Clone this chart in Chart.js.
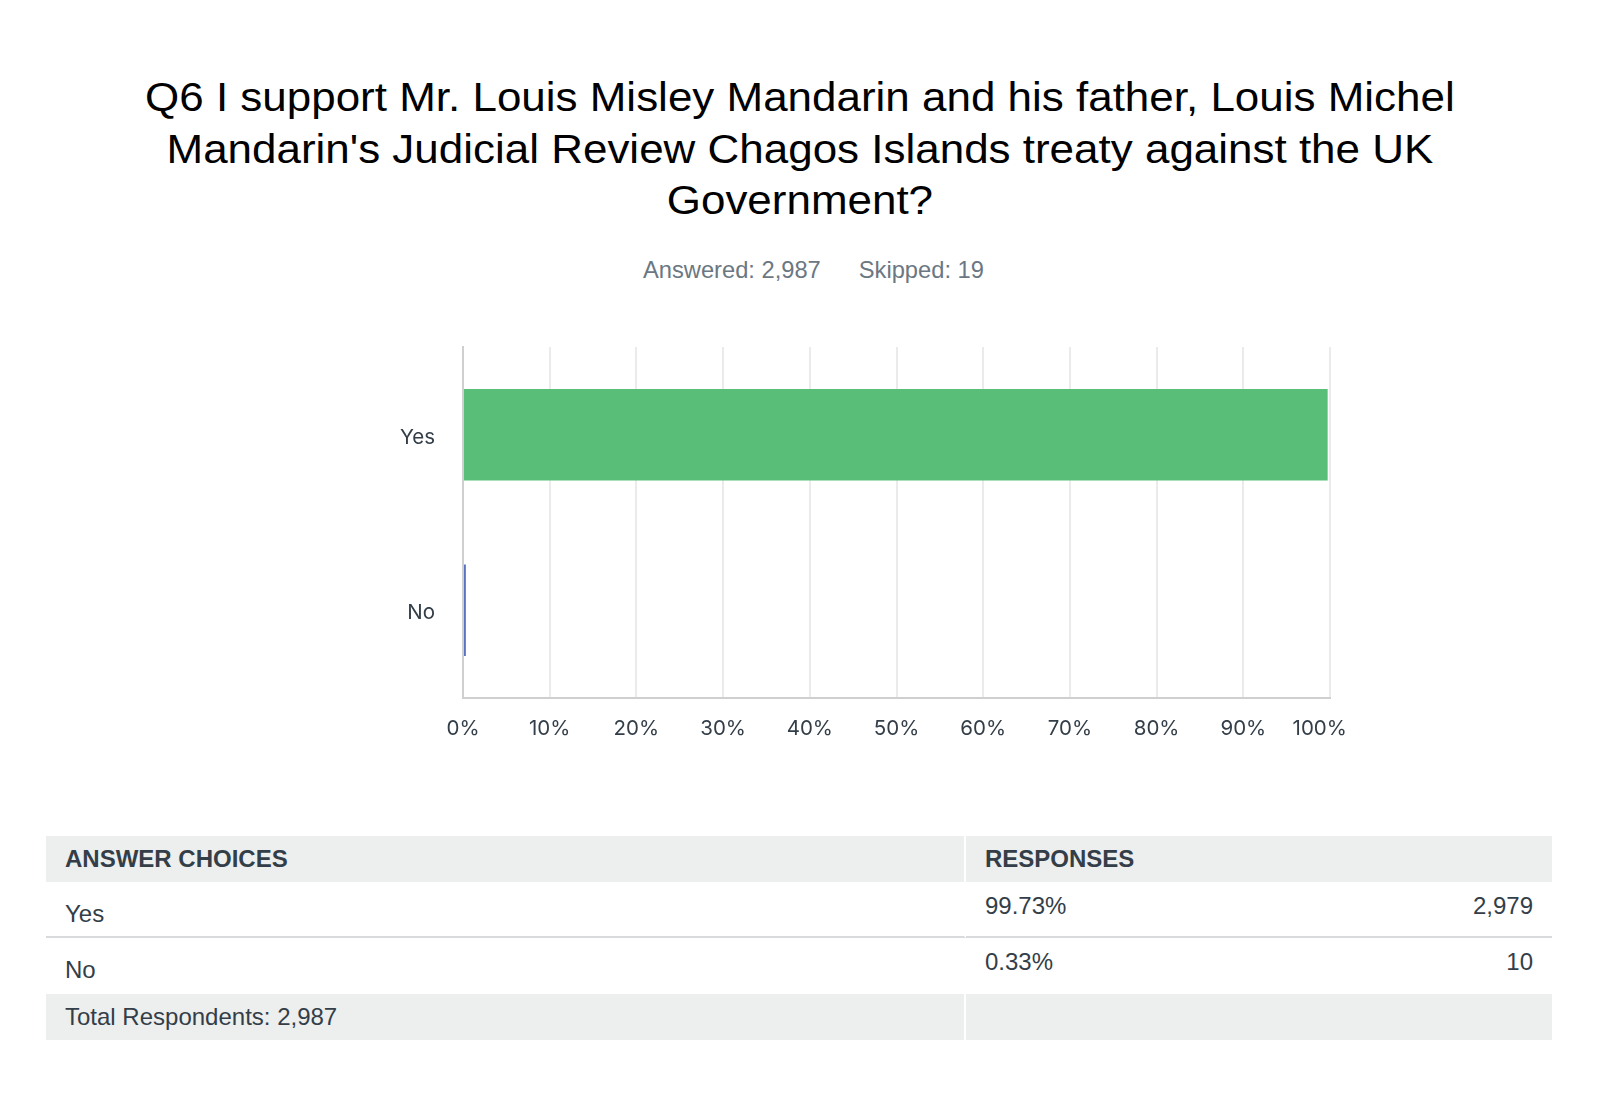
<!DOCTYPE html>
<html>
<head>
<meta charset="utf-8">
<title>Q6</title>
<script src="https://cdn.jsdelivr.net/npm/chart.js@4/dist/chart.umd.min.js"></script>
<style>
    body { margin: 0; width: 1600px; height: 1102px; background: #fff; position: relative; overflow: hidden; }
    .titre {
        position: absolute; left: 0; top: 72px; width: 1600px;
        text-align: center; font-family: "Liberation Sans", Arial, sans-serif;
        font-size: 40px; line-height: 51.7px; color: #000;
        transform: scaleX(1.099); transform-origin: 801px 0;
    }
    .resume {
        position: absolute; left: 643px; top: 257px;
        font-family: "Liberation Sans", Arial, sans-serif;
        font-size: 23.7px; line-height: 26px; color: #6b7782; white-space: nowrap;
    }
    .resume span + span { margin-left: 38px; }
    .graphContainer { position: absolute; left: 0; top: 300px; width: 1600px; height: 470px; }
    table {
        position: absolute; left: 46px; top: 836px; width: 1506px;
        border-collapse: separate; border-spacing: 0;
        font-family: "Liberation Sans", Arial, sans-serif; font-size: 24px; line-height: 26px; color: #333e48;
    }
    td, th { vertical-align: top; padding: 0 19px; text-align: left; }
    td.col1, th.col1 { width: 880px; border-right: 2px solid #fff; }
    th { background: #edeeee; height: 36px; padding-top: 10px; font-weight: bold; }
    tr.ligne td { height: 37px; }
    tr.ligne td.col1 { padding-top: 19px; }
    tr.ligne td.col2 { padding-top: 11px; }
    tr.ligne.sep td { border-bottom: 2px solid #d9dadb; height: 35px; }
    .nb { float: right; }
    tr.total td { background: #edeeee; height: 36px; padding-top: 10px; }
</style>
</head>
<body>

<div class="titre">Q6 I support Mr. Louis Misley Mandarin and his father, Louis Michel<br>Mandarin's Judicial Review Chagos Islands treaty against the UK<br>Government?</div>
<div class="resume"><span id="answered"></span><span id="skipped"></span></div>

<div class="graphContainer"><canvas id="canvas"></canvas></div>

<table>
    <thead><tr><th class="col1">ANSWER CHOICES</th><th class="col2">RESPONSES</th></tr></thead>
    <tbody id="tbodyTab"></tbody>
</table>

<script>
// Chart data
const choix = ["Yes", "No"];
const pourcentages = [99.73, 0.33];
const reponses = [2979, 10];
const couleurs = ["#58be78", "#5a72c0"];
const ticksX = [0, 10, 20, 30, 40, 50, 60, 70, 80, 90, 100];
const answered = 2987;
const skipped = 19;

/**
 * Builds the horizontal bar chart with Chart.js.
 */
function createGraph() {
    const data = {
        labels: choix,
        datasets: [
            {
                data: pourcentages,
                backgroundColor: couleurs,
                borderWidth: 0,
                barPercentage: 0.52,
                categoryPercentage: 1.0
            }
        ]
    };

    const tickFont = { family: "Inter", size: 20.5 };

    const config = {
        type: 'bar',
        data: data,
        options: {
            indexAxis: 'y',
            responsive: true,
            maintainAspectRatio: false,
            animation: false,
            layout: { padding: { left: 300, right: 270, top: 47, bottom: 12 } },
            plugins: {
                legend: { display: false },
                tooltip: { enabled: false }
            },
            scales: {
                x: {
                    min: 0,
                    max: 100,
                    afterBuildTicks: function(scale) {
                        scale.ticks = ticksX.map(v => ({ value: v }));
                    },
                    afterFit: function(scale) { scale.height = 60; },
                    grid: { color: '#ebebeb', lineWidth: 2, drawTicks: false },
                    border: { color: '#cfcfcf', width: 2 },
                    ticks: {
                        color: '#333e48',
                        font: tickFont,
                        padding: 19,
                        maxRotation: 0,
                        // last label sits a bit to the left of its grid line, like the original
                        callback: function(value) {
                            return value === 100 ? value + '%\u2002\u2002' : value + '%';
                        }
                    }
                },
                y: {
                    afterFit: function(scale) { scale.width = 163; },
                    grid: { display: false, drawTicks: false },
                    border: { color: '#cfcfcf', width: 2 },
                    ticks: { color: '#333e48', font: tickFont, padding: 28, labelOffset: 3 }
                }
            }
        }
    };

    new Chart(document.getElementById("canvas"), config);
}

/**
 * Fills the answer table below the chart.
 */
function fillTable() {
    const refTable = document.getElementById("tbodyTab");
    for (let k = 0; k < choix.length; k++) {
        const ligne = refTable.insertRow(-1);
        ligne.className = (k < choix.length - 1) ? "ligne sep" : "ligne";
        const c1 = ligne.insertCell(0);
        c1.className = "col1";
        c1.textContent = choix[k];
        const c2 = ligne.insertCell(1);
        c2.className = "col2";
        c2.innerHTML = pourcentages[k].toFixed(2) + '%<span class="nb">' + reponses[k].toLocaleString('en-US') + '</span>';
    }
    const total = refTable.insertRow(-1);
    total.className = "total";
    const t1 = total.insertCell(0);
    t1.className = "col1";
    t1.textContent = "Total Respondents: " + answered.toLocaleString('en-US');
    total.insertCell(1).className = "col2";
}

addEventListener("DOMContentLoaded", () => {
    document.getElementById("answered").textContent = "Answered: " + answered.toLocaleString('en-US');
    document.getElementById("skipped").textContent = "Skipped: " + skipped;
    createGraph();
    fillTable();
});
</script>
</body>
</html>
